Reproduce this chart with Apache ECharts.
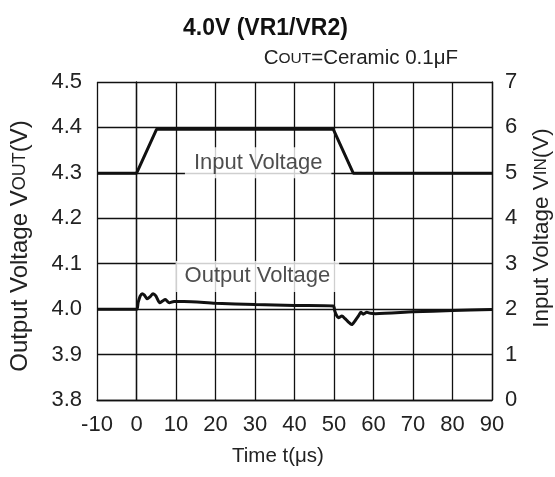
<!DOCTYPE html>
<html>
<head>
<meta charset="utf-8">
<script src="https://cdn.jsdelivr.net/npm/echarts@6/dist/echarts.min.js"></script>
<style>
html, body { margin: 0; padding: 0; background: #fff; }
#chart { width: 555px; height: 477px; }
</style>
</head>
<body>
<div id="chart"></div>
<script>
// Axis ranges
const timeRange = { min: -10, max: 90, step: 10 };
const voutRange = { min: 3.8, max: 4.5, step: 0.1 };
const vinRange = { min: 0, max: 7, step: 1 };

// Input step: 5 V -> 6 V -> 5 V  [t (us), VIN (V)]
const inputVoltage = [
  [-10, 4.99], [0, 4.99], [5.1, 5.96], [49.8, 5.96], [54.9, 4.99], [90, 4.99]
];

// Output response  [t (us), VOUT (V)]
const outputVoltage = [
  [-10, 4.000], [0, 4.000], [0.4, 4.014], [0.9, 4.028], [1.4, 4.034], [2.0, 4.031],
  [2.7, 4.023], [3.4, 4.027], [4.2, 4.034], [4.9, 4.029], [5.9, 4.014], [6.6, 4.018],
  [7.3, 4.021], [8.3, 4.014], [9.5, 4.017], [12, 4.017], [20, 4.013], [30, 4.010],
  [40, 4.008], [49.8, 4.007], [50.2, 3.996], [50.6, 3.987], [51.1, 3.981], [52.0, 3.985],
  [52.8, 3.979], [53.6, 3.972], [54.5, 3.966], [55.3, 3.974], [56.2, 3.985], [56.8, 3.993],
  [57.4, 3.989], [58.3, 3.993], [59.2, 3.991], [60.5, 3.990], [70, 3.994], [80, 3.997],
  [90, 3.999]
];

// Curve captions  [t, VOUT-axis value, text]
const curveLabels = [
  [30.8, 4.322, 'Input Voltage'],
  [30.6, 4.072, 'Output Voltage']
];

const FONT = "'Liberation Sans', Arial, Helvetica, sans-serif";
const INK = '#111';
const TEXT = '#222';

const chart = echarts.init(document.getElementById('chart'), null, { renderer: 'canvas' });

chart.setOption({
  animation: false,
  backgroundColor: '#fff',
  textStyle: { fontFamily: FONT },
  title: [
    {
      text: '4.0V (VR1/VR2)',
      left: 178, top: 12,
      textStyle: { fontFamily: FONT, fontSize: 23, fontWeight: 'bold', color: '#111' }
    },
    {
      text: 'C{s|OUT}=Ceramic 0.1μF',
      right: 92, top: 43,
      textStyle: {
        fontFamily: FONT, fontSize: 20.5, fontWeight: 'normal', color: TEXT,
        rich: { s: { fontFamily: FONT, fontSize: 15.5, color: TEXT } }
      }
    }
  ],
  grid: { left: 97, right: 63, top: 82, bottom: 77, containLabel: false, outerBoundsMode: 'none' },
  xAxis: {
    type: 'value',
    min: timeRange.min, max: timeRange.max, interval: timeRange.step,
    name: 'Time t(μs)',
    nameLocation: 'middle', nameGap: 46,
    nameTextStyle: { fontFamily: FONT, fontSize: 20.5, color: TEXT, padding: [0, 33, 0, 0] },
    axisLine: { show: true, lineStyle: { color: INK, width: 1.3 } },
    axisTick: { show: false },
    axisLabel: { fontFamily: FONT, fontSize: 22, color: TEXT, margin: 14 },
    splitLine: { show: true, lineStyle: { color: INK, width: 1.3 } }
  },
  yAxis: [
    {
      type: 'value', position: 'left',
      min: voutRange.min, max: voutRange.max, interval: voutRange.step,
      name: 'Output Voltage V{s|OUT}(V)',
      nameLocation: 'middle', nameGap: 65, nameRotate: 90,
      nameTextStyle: {
        fontFamily: FONT, fontSize: 24, color: TEXT, padding: [0, 10, 0, 0],
        rich: { s: { fontFamily: FONT, fontSize: 18, color: TEXT } }
      },
      axisLine: { show: true, lineStyle: { color: INK, width: 1.3 } },
      axisTick: { show: false },
      axisLabel: { fontFamily: FONT, fontSize: 22, color: TEXT, margin: 15,
        formatter: v => v.toFixed(1) },
      splitLine: { show: true, lineStyle: { color: INK, width: 1.3 } }
    },
    {
      type: 'value', position: 'right',
      min: vinRange.min, max: vinRange.max, interval: vinRange.step,
      name: 'Input Voltage V{s|IN}(V)',
      nameLocation: 'middle', nameGap: 38, nameRotate: 90,
      nameTextStyle: {
        fontFamily: FONT, fontSize: 22.5, color: TEXT, padding: [0, 0, 0, 26],
        rich: { s: { fontFamily: FONT, fontSize: 17, color: TEXT } }
      },
      axisLine: { show: true, lineStyle: { color: INK, width: 1.3 } },
      axisTick: { show: false },
      axisLabel: { fontFamily: FONT, fontSize: 22, color: TEXT, margin: 13 },
      splitLine: { show: false }
    }
  ],
  series: [
    {
      name: 'Input Voltage',
      type: 'line', yAxisIndex: 1,
      data: inputVoltage,
      showSymbol: false, smooth: false,
      lineStyle: { color: INK, width: 3 },
      z: 3
    },
    {
      name: 'Output Voltage',
      type: 'line', yAxisIndex: 0,
      data: outputVoltage,
      showSymbol: false, smooth: 0.25,
      lineStyle: { color: INK, width: 3 },
      z: 3
    },
    {
      name: 'captions',
      type: 'scatter', yAxisIndex: 0,
      data: curveLabels.map(d => ({ value: [d[0], d[1]], name: d[2] })),
      symbolSize: 0,
      silent: true,
      label: {
        show: true, position: 'inside',
        formatter: p => p.name,
        fontFamily: FONT, fontSize: 22, color: TEXT,
        backgroundColor: '#fff', padding: [5, 9, 4, 9]
      },
      z: 4
    }
  ]
});
</script>
</body>
</html>
